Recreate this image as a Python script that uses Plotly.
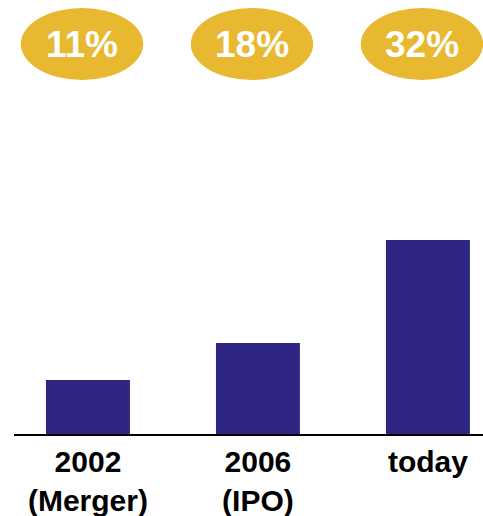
import plotly.graph_objects as go

# Milestones along the x axis
milestones = ["2002<br>(Merger)", "2006<br>(IPO)", "today"]
# Bar heights (relative size, arbitrary units)
bar_values = [5.4, 9.1, 19.4]
# Share shown in the badge above each bar
share_labels = ["11%", "18%", "32%"]

BAR_COLOR = "#2f2583"
BADGE_COLOR = "#e8b830"
FONT = "Liberation Sans, Arial, Helvetica, sans-serif"

fig = go.Figure(
    go.Bar(
        x=list(range(len(milestones))),
        y=bar_values,
        marker=dict(color=BAR_COLOR, line=dict(width=0)),
        hoverinfo="skip",
    )
)

# Badge geometry in data units
badge_dx = -0.035
badge_half_w = 0.36
badge_y = 39.0
badge_half_h = 3.6

for i, label in enumerate(share_labels):
    cx = i + badge_dx
    fig.add_shape(
        type="circle",
        xref="x", yref="y",
        x0=cx - badge_half_w, x1=cx + badge_half_w,
        y0=badge_y - badge_half_h, y1=badge_y + badge_half_h,
        fillcolor=BADGE_COLOR,
        line=dict(width=0),
        layer="above",
    )
    fig.add_annotation(
        x=cx, y=badge_y, xref="x", yref="y",
        text=f"<b>{label}</b>",
        showarrow=False,
        font=dict(family=FONT, size=37, color="white"),
        xanchor="center", yanchor="middle",
    )

fig.update_layout(
    width=483,
    height=516,
    margin=dict(l=14, r=0, t=0, b=82),
    paper_bgcolor="white",
    plot_bgcolor="white",
    bargap=0.506,
    showlegend=False,
    font=dict(family=FONT, color="black"),
    xaxis=dict(
        range=[-0.435, 2.324],
        tickmode="array",
        tickvals=list(range(len(milestones))),
        ticktext=[f"<b>{m}</b>" for m in milestones],
        tickfont=dict(family=FONT, size=30, color="black"),
        showline=True,
        linecolor="black",
        linewidth=2,
        showgrid=False,
        zeroline=False,
        ticks="",
        fixedrange=True,
    ),
    yaxis=dict(
        range=[0, 43.4],
        visible=False,
        showgrid=False,
        zeroline=False,
        fixedrange=True,
    ),
)

fig.write_html("out.html", config={"displayModeBar": False})
